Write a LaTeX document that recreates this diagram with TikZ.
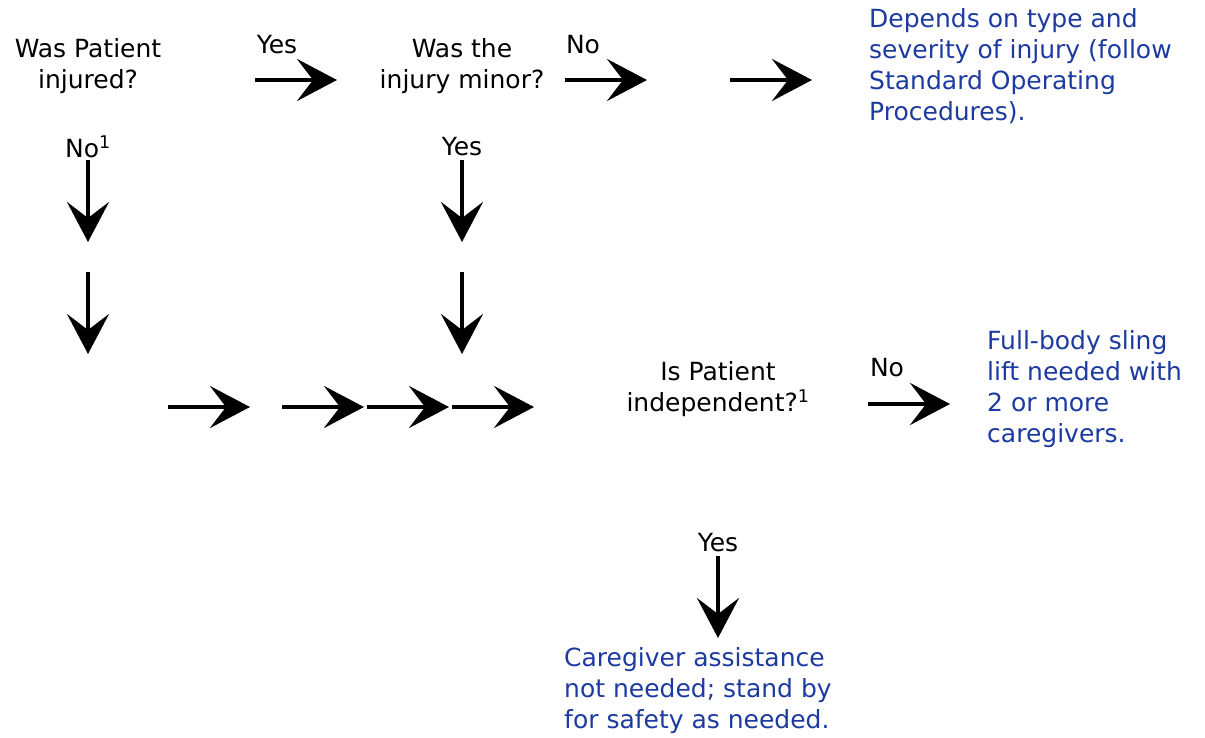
\documentclass[tikz,border=0pt]{standalone}
\usepackage{fontspec}
\setmainfont{DejaVu Sans}
\usepackage{xcolor}
\usetikzlibrary{arrows.meta}
\definecolor{answerblue}{RGB}{28,58,160}

\begin{document}
\begin{tikzpicture}[x=1pt, y=-1pt,
    question/.style={align=center, inner sep=0pt, font=\fontsize{25}{31}\selectfont},
    answer/.style={align=left, anchor=west, inner sep=0pt, text=answerblue, font=\fontsize{25}{31}\selectfont},
    choice/.style={inner sep=0pt, font=\fontsize{25}{31}\selectfont},
    flow/.style={line width=4pt, -{Stealth[length=40pt, width=42pt, inset=16pt]}}]
    \useasboundingbox (0,0) rectangle (1205,738);

    % Questions
    \node[question] (injured) at (88,66) {Was Patient\\injured?};
    \node[question] (minor) at (462,66) {Was the\\injury minor?};
    \node[question] (indep) at (718,389) {Is Patient\\independent?\textsuperscript{1}};

    % Outcomes
    \node[answer] (sop) at (869,66) {Depends on type and\\severity of injury (follow\\Standard Operating\\Procedures).};
    \node[answer] (sling) at (987,389) {Full-body sling\\lift needed with\\2 or more\\caregivers.};
    \node[answer] (standby) at (564,691) {Caregiver assistance\\not needed; stand by\\for safety as needed.};

    % Yes / No labels
    \node[choice] (yesA) at (277,45) {Yes};
    \node[choice] (noA) at (583,45) {No};
    \node[choice] (noB) at (88,147) {No\textsuperscript{1}};
    \node[choice] (yesB) at (462,147) {Yes};
    \node[choice] (noC) at (887,368) {No};
    \node[choice] (yesC) at (718,543) {Yes};

    % Arrow ends
    \coordinate (r1a) at (255,80);  \coordinate (r1b) at (337,80);
    \coordinate (r2a) at (565,80);  \coordinate (r2b) at (647,80);
    \coordinate (r3a) at (730,80);  \coordinate (r3b) at (812,80);
    \coordinate (d1a) at (88,160);  \coordinate (d1b) at (88,242);
    \coordinate (d2a) at (88,272);  \coordinate (d2b) at (88,354);
    \coordinate (d3a) at (462,160); \coordinate (d3b) at (462,242);
    \coordinate (d4a) at (462,272); \coordinate (d4b) at (462,354);
    \coordinate (m1a) at (168,407); \coordinate (m1b) at (250,407);
    \coordinate (m2a) at (282,407); \coordinate (m2b) at (364,407);
    \coordinate (m3a) at (367,407); \coordinate (m3b) at (449,407);
    \coordinate (m4a) at (452,407); \coordinate (m4b) at (534,407);
    \coordinate (n1a) at (868,404); \coordinate (n1b) at (950,404);
    \coordinate (y1a) at (718,556); \coordinate (y1b) at (718,638);

    % Arrows
    \foreach \a in {r1,r2,r3,d1,d2,d3,d4,m1,m2,m3,m4,n1,y1}
        \draw[flow] (\a a) -- (\a b);
\end{tikzpicture}
\end{document}
